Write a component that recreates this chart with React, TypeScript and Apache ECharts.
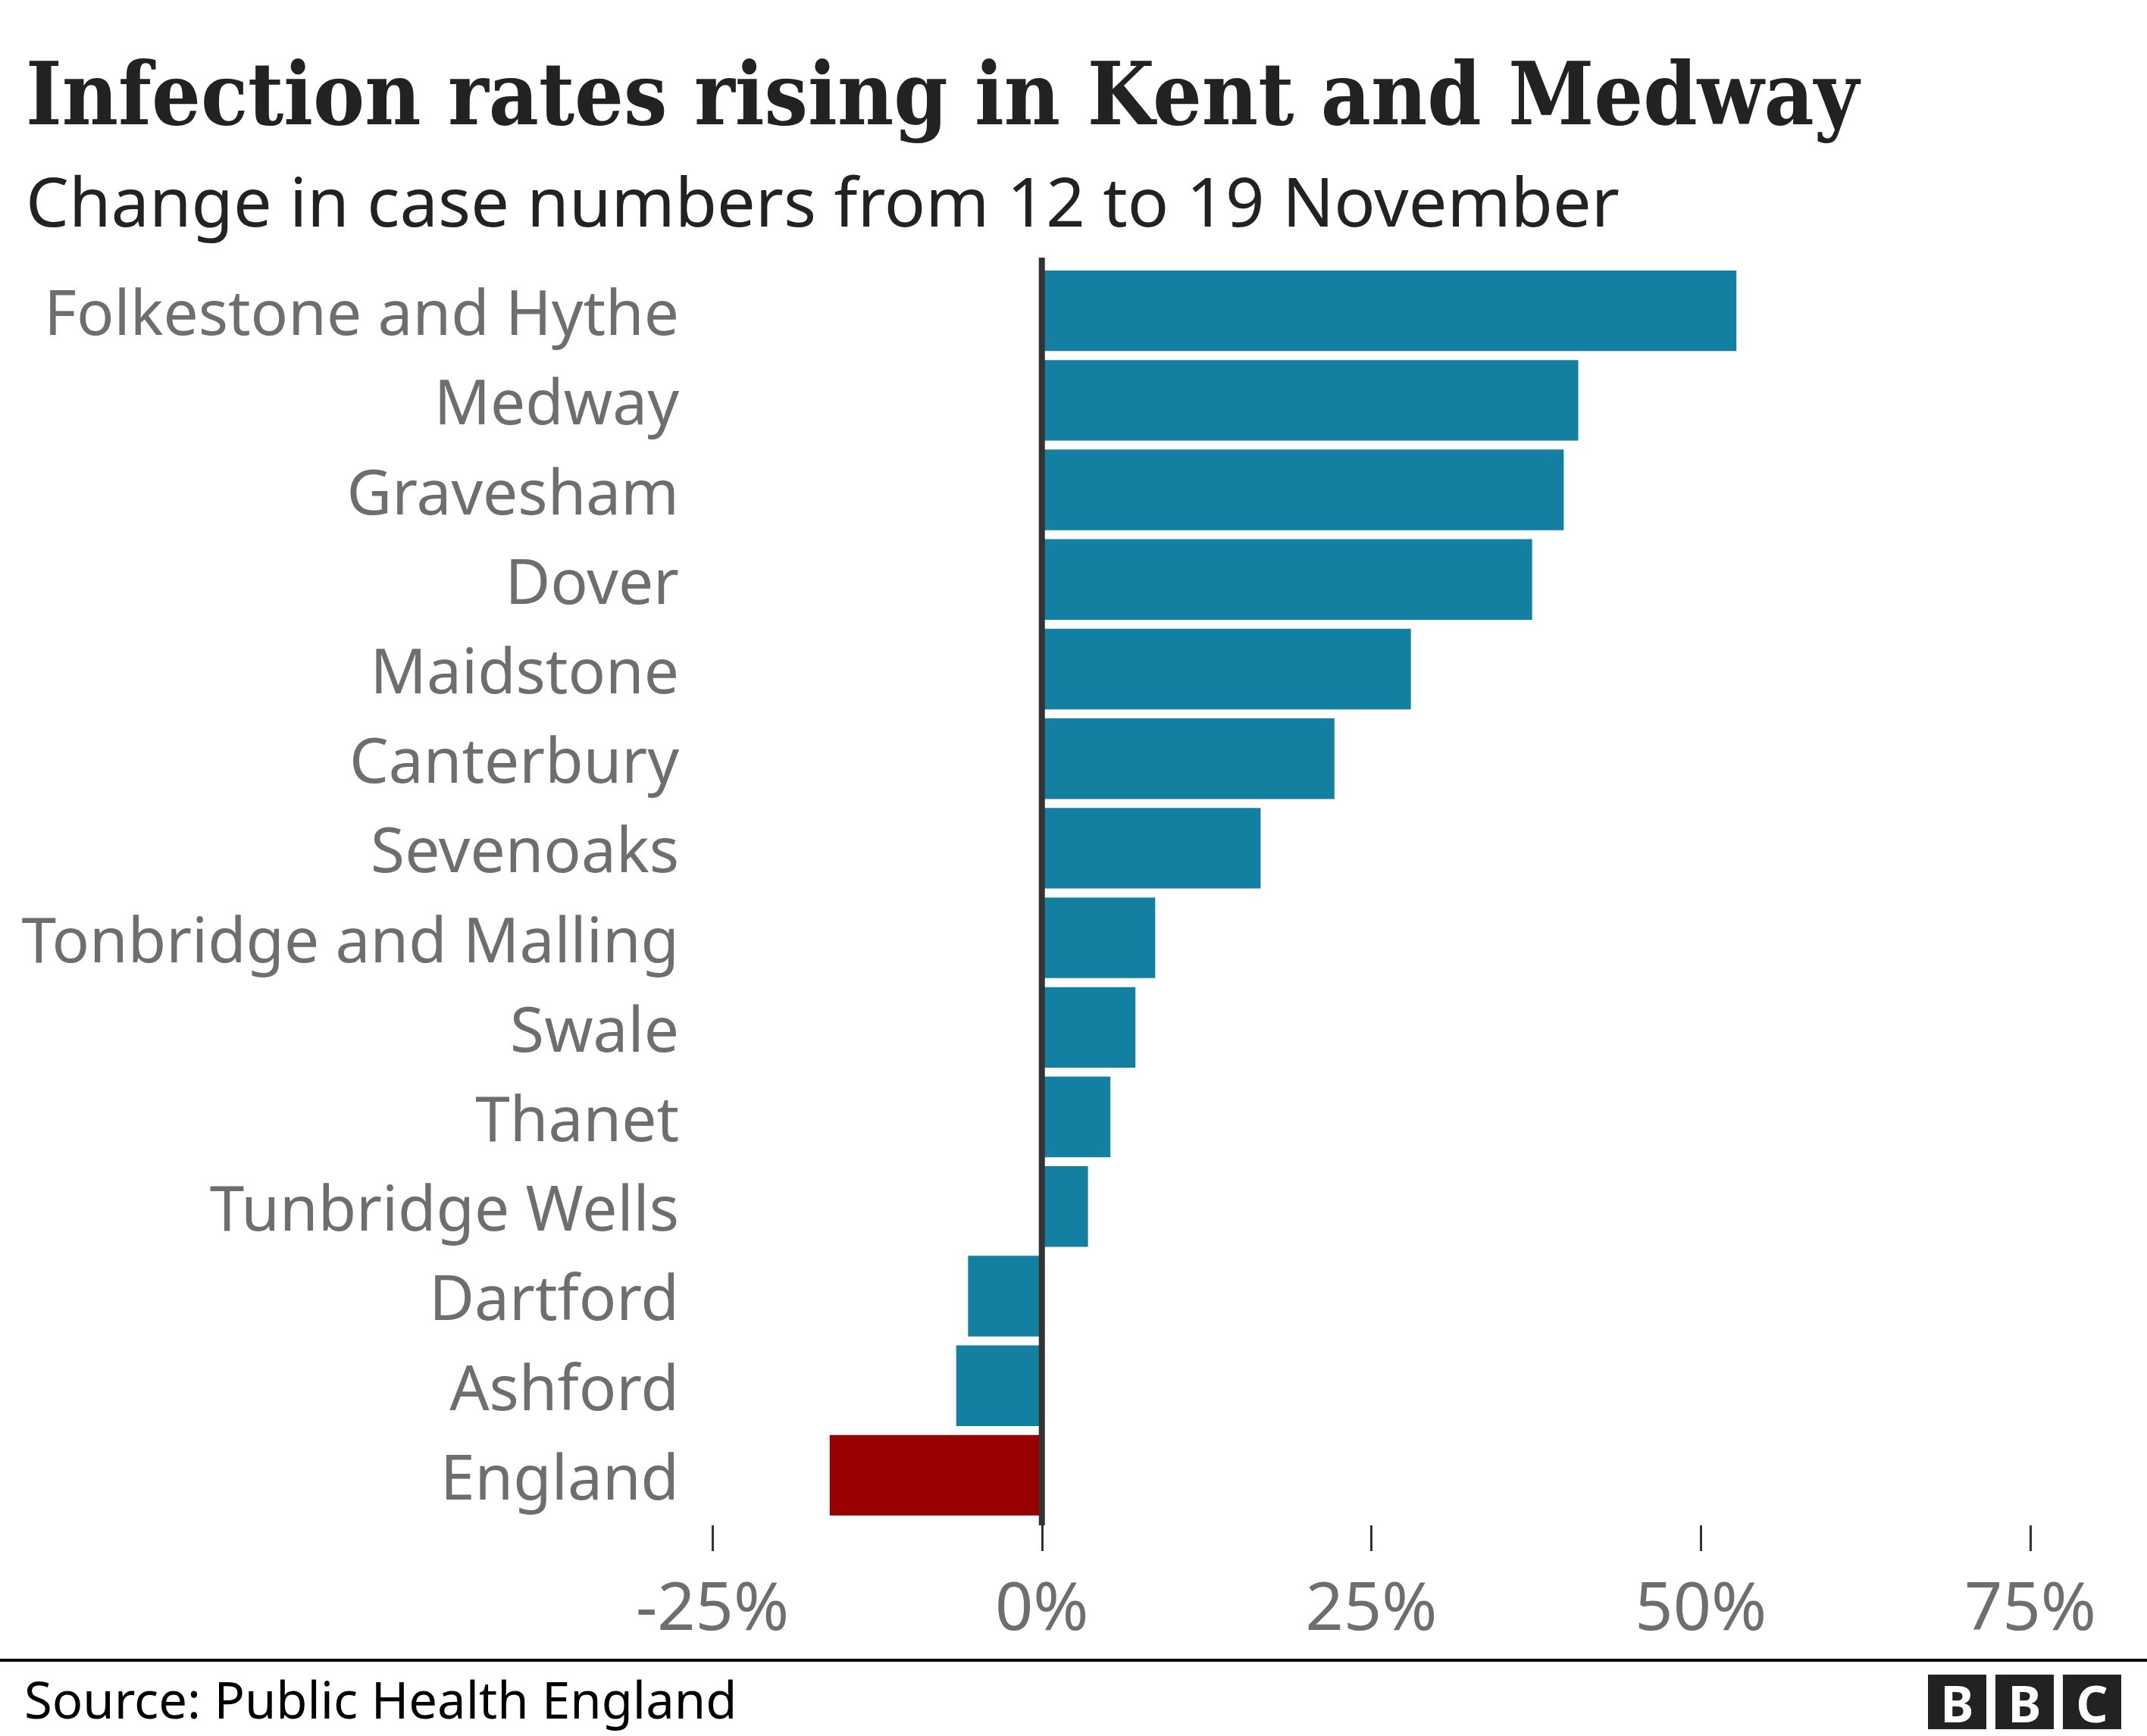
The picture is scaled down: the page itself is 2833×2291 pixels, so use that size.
import React, { useEffect, useRef } from "react";
import * as echarts from "echarts";

const categories = [
  "Folkestone and Hythe",
  "Medway",
  "Gravesham",
  "Dover",
  "Maidstone",
  "Canterbury",
  "Sevenoaks",
  "Tonbridge and Malling",
  "Swale",
  "Thanet",
  "Tunbridge Wells",
  "Dartford",
  "Ashford",
  "England",
];
const values = [52.7, 40.7, 39.6, 37.2, 28.0, 22.2, 16.6, 8.6, 7.1, 5.2, 3.5, -5.6, -6.5, -16.1];
const tickValues = [-25, 0, 25, 50, 75];
const highlightCategory = "England";

const TITLE = "Infection rates rising in Kent and Medway";
const SUBTITLE = "Change in case numbers from 12 to 19 November";
const SOURCE = "Source: Public Health England";

const BLUE = "#1380a1";
const RED = "#990000";
const GREY = "#6e6e6e";
const SANS = "'Noto Sans', 'Open Sans', sans-serif";

export default function App() {
  const ref = useRef<HTMLDivElement>(null);
  useEffect(() => {
    const chart = echarts.init(ref.current!, null, { renderer: "svg" });
    chart.setOption({
      animation: false,
      backgroundColor: "#ffffff",
      grid: { left: 940, right: 154, top: 351, bottom: 2291 - 2006, containLabel: false },
      xAxis: {
        type: "value",
        min: tickValues[0],
        max: tickValues[tickValues.length - 1],
        interval: 25,
        position: "bottom",
        offset: 7,
        axisLine: { show: false },
        axisTick: { show: true, length: 34, lineStyle: { color: "#333333", width: 3 } },
        splitLine: { show: false },
        axisLabel: {
          formatter: "{value}%",
          fontSize: 88,
          color: GREY,
          fontFamily: SANS,
          margin: 60,
        },
      },
      yAxis: {
        type: "category",
        inverse: true,
        data: categories,
        axisLine: { show: false },
        axisTick: { show: false },
        axisLabel: {
          fontSize: 82,
          color: GREY,
          fontFamily: SANS,
          margin: 44,
          padding: [0, 0, 6, 0],
        },
      },
      series: [
        {
          type: "bar",
          barCategoryGap: "10%",
          data: values.map((v, i) => ({
            value: v,
            itemStyle: { color: categories[i] === highlightCategory ? RED : BLUE },
          })),
        },
      ],
    });

    const x0 = chart.convertToPixel({ xAxisIndex: 0 }, 0) as number;
    const logoX = [2544, 2633, 2722];
    const letters = ["B", "B", "C"];
    chart.setOption({
      graphic: [
        {
          type: "line",
          z: 100,
          shape: { x1: x0, y1: 340, x2: x0, y2: 2013 },
          style: { stroke: "#333333", lineWidth: 8 },
        },
        {
          type: "text",
          x: 34,
          y: 124,
          style: {
            text: TITLE,
            fontFamily: "'DejaVu Serif Condensed', 'DejaVu Serif', serif",
            fontWeight: "bold",
            fontSize: 113.5,
            fill: "#222222",
            verticalAlign: "middle",
          },
        },
        {
          type: "text",
          x: 34,
          y: 264,
          style: {
            text: SUBTITLE,
            fontFamily: SANS,
            fontSize: 90,
            fill: "#222222",
            verticalAlign: "middle",
          },
        },
        {
          type: "rect",
          shape: { x: 0, y: 2189, width: 2833, height: 4 },
          style: { fill: "#000000" },
        },
        {
          type: "text",
          x: 32,
          y: 2242,
          style: {
            text: SOURCE,
            fontFamily: SANS,
            fontSize: 67,
            fill: "#000000",
            verticalAlign: "middle",
          },
        },
        ...logoX.flatMap((lx, i) => [
          {
            type: "rect",
            shape: { x: lx, y: 2210, width: 77, height: 72 },
            style: { fill: "#222222" },
          },
          {
            type: "text",
            x: lx + 38.5,
            y: 2247,
            style: {
              text: letters[i],
              fontFamily: SANS,
              fontWeight: "bold",
              fontSize: 66,
              fill: "#ffffff",
              align: "center",
              verticalAlign: "middle",
            },
          },
        ]),
      ],
    });
    return () => chart.dispose();
  }, []);
  return (
    <div
      ref={ref}
      style={{ position: "absolute", left: 0, top: 0, width: 2833, height: 2291 }}
    />
  );
}
